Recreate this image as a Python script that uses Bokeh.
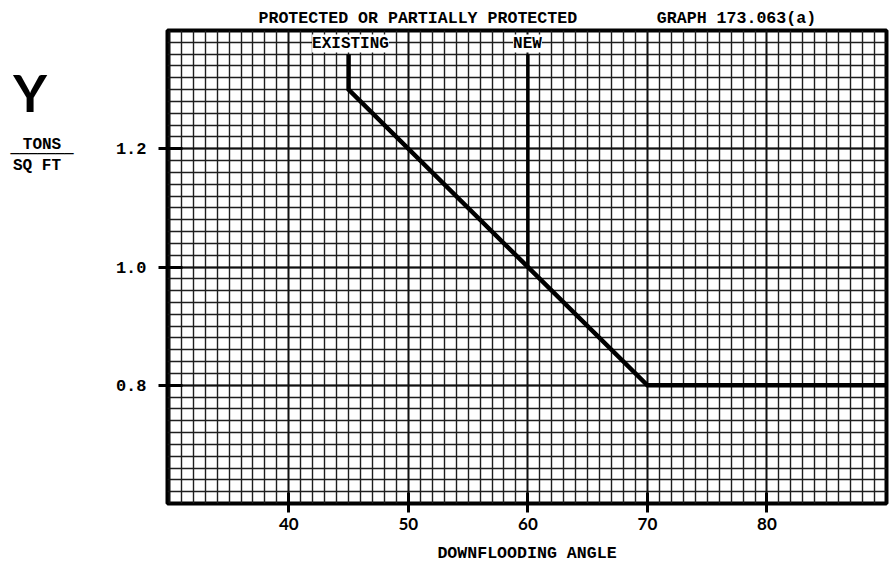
from bokeh.plotting import figure
from bokeh.models import FixedTicker, Grid, Label, Range1d, Title
from bokeh.layouts import row
from bokeh.embed import file_html
from bokeh.resources import INLINE

# ---- data ----
x_ticks = [40, 50, 60, 70, 80]
y_ticks = [0.8, 1.0, 1.2]
y_tick_labels = ["0.8", "1.0", "1.2"]
existing_x = [45, 45, 70, 90]
existing_y = [1.36, 1.30, 0.80, 0.80]
new_x = [60, 60]
new_y = [1.00, 1.36]
title_text = "PROTECTED OR PARTIALLY PROTECTED"
graph_text = "GRAPH 173.063(a)"
x_label = "DOWNFLOODING ANGLE"

XL, XR = 29.85, 90.0
YB, YT = 0.6, 1.4
H = 565
LW = 100           # width of the left caption panel
W = 891 - LW       # width of main figure
FL, FR, FT, FB = 167, 886, 30, 503  # frame in page pixels

MONO = "Liberation Mono"

p = figure(width=W, height=H, output_backend="svg", toolbar_location=None,
           title=None, x_range=Range1d(XL, XR), y_range=Range1d(YB, YT),
           min_border_left=FL - LW, min_border_right=891 - FR,
           min_border_top=FT, min_border_bottom=H - FB)
p.background_fill_color = "white"
p.border_fill_color = "white"
p.outline_line_color = "black"
p.outline_line_width = 4

# grid (graph paper)
p.xgrid.visible = False
p.ygrid.visible = False
minor_x = [v for v in range(30, 90)]
minor_y = [round(0.6 + 0.02 * i, 2) for i in range(1, 40)]
major_x = [v for v in minor_x if v % 10 == 0]
major_y = [0.8, 1.0, 1.2]
p.add_layout(Grid(dimension=0, ticker=FixedTicker(ticks=minor_x),
                  grid_line_color="#1e1e1e", grid_line_width=1.4))
p.add_layout(Grid(dimension=1, ticker=FixedTicker(ticks=minor_y),
                  grid_line_color="#1e1e1e", grid_line_width=1.4))
p.add_layout(Grid(dimension=0, ticker=FixedTicker(ticks=major_x),
                  grid_line_color="#111111", grid_line_width=1.8))
p.add_layout(Grid(dimension=1, ticker=FixedTicker(ticks=major_y),
                  grid_line_color="#111111", grid_line_width=1.8))

# axes
xa = p.xaxis[0]
xa.ticker = FixedTicker(ticks=x_ticks)
xa.axis_line_color = None
xa.major_tick_line_width = 3
xa.major_tick_line_color = "black"
xa.major_tick_in = 11
xa.major_tick_out = 9
xa.minor_tick_line_color = None
xa.major_label_standoff = 5
xa.major_label_text_font = "Lato"
xa.major_label_text_font_style = "bold"
xa.major_label_text_font_size = "17px"
xa.major_label_text_color = "black"
xa.axis_label = x_label
xa.axis_label_text_font = MONO
xa.axis_label_text_font_style = "bold"
xa.axis_label_text_font_size = "16.6px"
xa.axis_label_text_color = "black"
xa.axis_label_standoff = 11

ya = p.yaxis[0]
ya.ticker = FixedTicker(ticks=y_ticks)
ya.major_label_overrides = {t: l for t, l in zip(y_ticks, y_tick_labels)}
ya.axis_line_color = None
ya.major_tick_line_width = 3
ya.major_tick_line_color = "black"
ya.major_tick_in = 15
ya.major_tick_out = 9
ya.minor_tick_line_color = None
ya.major_label_standoff = 12
ya.major_label_text_font = MONO
ya.major_label_text_font_style = "bold"
ya.major_label_text_font_size = "17px"
ya.major_label_text_color = "black"

# title line (monospace; non-breaking spaces position the second part)
t = Title(text=title_text + "\u00a0" * 8 + graph_text, align="left", offset=258 - FL,
          text_font=MONO, text_font_style="bold", text_font_size="16.6px",
          text_color="black", standoff=6)
p.add_layout(t, "above")

# curves
p.line(existing_x, existing_y, line_color="black", line_width=4.5, line_join="miter")
p.line(new_x, new_y, line_color="black", line_width=3.5)


def dx(px):
    return XL + (px - FL) * (XR - XL) / (FR - FL)


def dy(py):
    return YB + (FB - py) * (YT - YB) / (FB - FT)


for text, px in (("EXISTING", 350), ("NEW", 527)):
    p.add_layout(Label(x=dx(px), y=dy(43), text=text, text_font=MONO,
                       text_font_style="bold", text_font_size="16px",
                       text_align="center", text_baseline="middle",
                       text_color="black", background_fill_color="white"))

# left caption panel (page pixel coordinates)
q = figure(width=LW, height=H, output_backend="svg", toolbar_location=None,
           title=None, x_range=Range1d(0, LW), y_range=Range1d(H, 0),
           min_border=0, min_border_left=0, min_border_right=0,
           min_border_top=0, min_border_bottom=0)
q.axis.visible = False
q.grid.visible = False
q.outline_line_color = None
q.background_fill_color = "white"
q.border_fill_color = "white"


def qlab(text, x, y, size, font=MONO, style="bold"):
    q.add_layout(Label(x=x, y=y, text=text, text_font=font, text_font_style=style,
                       text_font_size=size, text_align="center", text_baseline="middle",
                       text_color="black"))


qlab("Y", 29.5, 74, "52px", font="Lato", style="bold")
qlab("TONS", 41.5, 137, "16px")
qlab("\u2500" * 7, 41.5, 147, "15px", font="DejaVu Sans Mono", style="bold")
qlab("SQ FT", 36.5, 162, "16px")

layout = row(q, p, spacing=0)
open("out.html", "w").write(file_html(layout, INLINE))
